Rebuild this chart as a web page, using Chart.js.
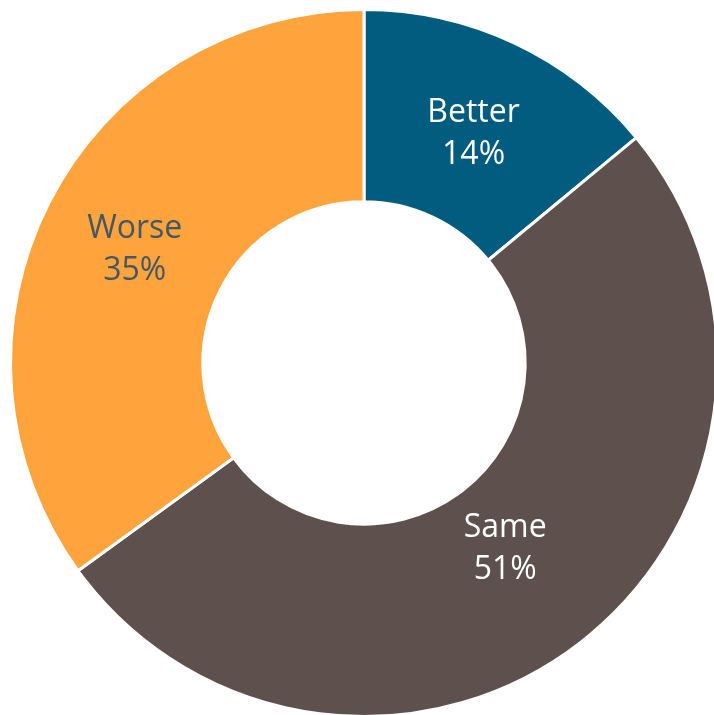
<!DOCTYPE html>
<html>
<head>
<meta charset="utf-8">
<script src="https://cdn.jsdelivr.net/npm/chart.js@4/dist/chart.umd.min.js"></script>
<style>
  html, body { margin: 0; padding: 0; background: #fff; overflow: hidden; }
  #wrap { position: absolute; left: 0; top: 0; width: 728px; height: 726px; }
</style>
</head>
<body>
<div id="wrap"><canvas id="donutChart" width="728" height="726"></canvas></div>
<script>
// categories and values
const labels = ["Better", "Same", "Worse"];
const shares = [14, 51, 35];

const colors = ["#015c80", "#5e514d", "#ffa33d"];
const textColors = ["#ffffff", "#ffffff", "#435766"];
// where the label sits across the ring (0 = inner edge, 1 = outer edge)
const labelRing = [0.5, 0.36, 0.5];

// draws "Name / NN%" inside each slice
const sliceLabels = {
    id: "sliceLabels",
    afterDatasetsDraw(chart) {
        const ctx = chart.ctx;
        const meta = chart.getDatasetMeta(0);
        ctx.save();
        ctx.font = "32px 'Open Sans', 'Noto Sans', sans-serif";
        ctx.textAlign = "center";
        ctx.textBaseline = "middle";
        meta.data.forEach((arc, i) => {
            const mid = (arc.startAngle + arc.endAngle) / 2;
            const r = arc.innerRadius + (arc.outerRadius - arc.innerRadius) * labelRing[i];
            const x = arc.x + Math.cos(mid) * r;
            const y = arc.y + Math.sin(mid) * r + 4;
            ctx.fillStyle = textColors[i];
            ctx.fillText(labels[i], x, y - 21);
            ctx.fillText(shares[i] + "%", x, y + 21);
        });
        ctx.restore();
    }
};

const donutChart = new Chart(document.getElementById("donutChart"), {
    type: "doughnut",
    data: {
        labels: labels,
        datasets: [
            {
                data: shares,
                backgroundColor: colors,
                borderColor: "#ffffff",
                borderWidth: 3,
            }
        ]
    },
    options: {
        responsive: false,
        animation: false,
        cutout: "45.6%",
        layout: { padding: 8 },
        plugins: {
            legend: { display: false },
            tooltip: { enabled: false }
        }
    },
    plugins: [sliceLabels]
});
</script>
</body>
</html>
